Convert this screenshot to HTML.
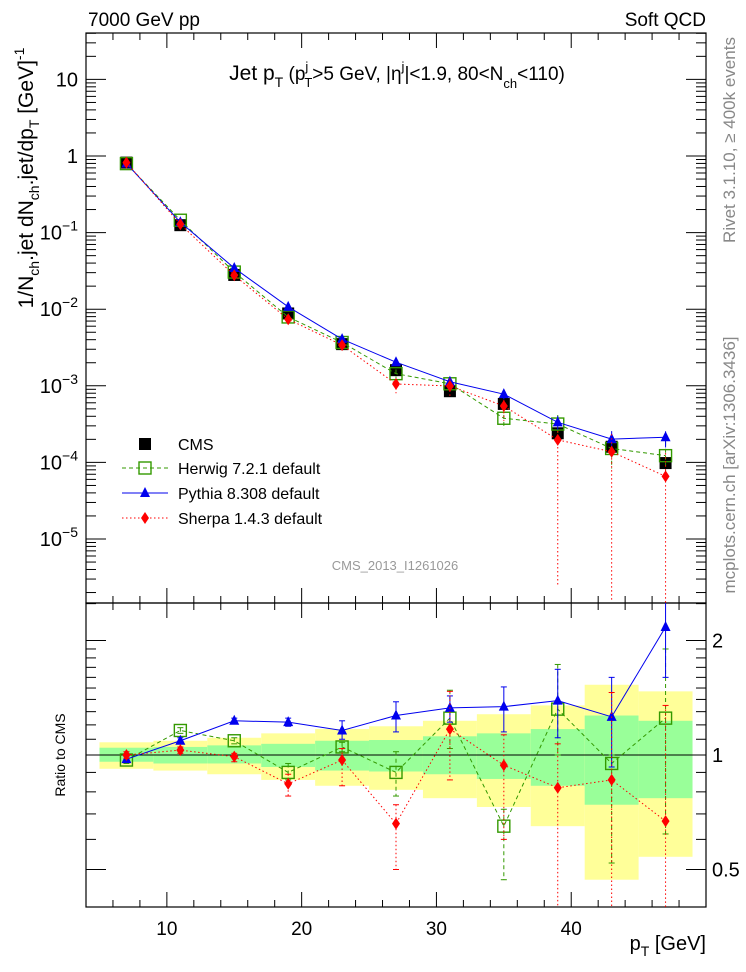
<!DOCTYPE html>
<html><head><meta charset="utf-8"><style>
html,body{margin:0;padding:0;background:#fff;overflow:hidden;width:746px;height:972px}
svg{display:block;font-family:"Liberation Sans",sans-serif}
</style></head><body>
<svg id="c" width="746" height="972" viewBox="0 0 746 972" xmlns="http://www.w3.org/2000/svg"></svg>
<script>
const pt=[7,11,15,19,23,27,31,35,39,43,47];
const cms=[0.82,0.125,0.028,0.0088,0.0035,0.0016,0.00085,0.00058,0.00024,0.00016,0.000098];
const herwigR=[0.97,1.16,1.09,0.90,1.05,0.90,1.25,0.65,1.32,0.95,1.25];
const herwigUp=[1.0,1.18,1.11,0.95,1.08,1.02,1.48,0.72,1.73,1.0,1.9];
const herwigDn=[0.95,1.14,1.07,0.86,1.02,0.78,1.04,0.47,1.0,0.52,0.62];
const pythiaR=[0.975,1.09,1.23,1.22,1.16,1.27,1.33,1.34,1.39,1.26,2.17];
const pythiaUp=[0.99,1.11,1.25,1.25,1.23,1.38,1.43,1.51,1.68,1.6,2.6];
const pythiaDn=[0.96,1.07,1.21,1.19,1.10,1.15,1.22,1.15,1.11,0.93,1.6];
const sherpaR=[1.0,1.03,0.99,0.84,0.97,0.66,1.17,0.94,0.82,0.86,0.67];
const sherpaUp=[1.02,1.05,1.01,0.89,1.04,0.74,1.47,1.13,1.07,1.46,1.35];
const sherpaDn=[0.98,1.01,0.96,0.78,0.83,0.5,0.86,0.6,0.01,0.01,0.01];
const bandLo=[5,9,13,17,21,25,29,33,37,41,45];
const bandHi=[9,13,17,21,25,29,33,37,41,45,49];
const green1Up=[1.045,1.05,1.06,1.07,1.09,1.095,1.12,1.14,1.17,1.27,1.23];
const green1Dn=[0.96,0.95,0.95,0.93,0.91,0.905,0.89,0.865,0.83,0.74,0.77];
const yellowUp=[1.08,1.09,1.11,1.14,1.17,1.19,1.23,1.28,1.35,1.53,1.47];
const yellowDn=[0.92,0.91,0.89,0.86,0.83,0.81,0.77,0.73,0.65,0.47,0.54];
const xTicks=[10,20,30,40];
const mainTicks=[1,0,-1,-2,-3,-4,-5];
const ratioTicks=[2,1,0.5];

const S=document.getElementById('c');const NS='http://www.w3.org/2000/svg';
function el(t,a,p){const e=document.createElementNS(NS,t);for(const k in a)e.setAttribute(k,a[k]);(p||S).appendChild(e);return e;}
const L=86,R=706,XMIN=4,XMAX=50,MT=33,MB=603,RT=603,RB=907;
const X=v=>L+(v-XMIN)*(R-L)/(XMAX-XMIN);
const Y=v=>156-76.6*Math.log10(v);
const YR=r=>755-114.5*Math.log2(r);
const clipM=el('clipPath',{id:'cm'});el('rect',{x:L,y:MT,width:R-L,height:MB-MT},clipM);
const clipR=el('clipPath',{id:'cr'});el('rect',{x:L,y:RT,width:R-L,height:RB-RT},clipR);

const gB=el('g',{'clip-path':'url(#cr)'});

for(let i=0;i<bandLo.length;i++){
 const r1=el('rect',{x:X(bandLo[i]),y:YR(yellowUp[i]),width:X(bandHi[i])-X(bandLo[i]),height:YR(yellowDn[i])-YR(yellowUp[i]),fill:'#ffff99'},gB);
 
 const r2=el('rect',{x:X(bandLo[i]),y:YR(green1Up[i]),width:X(bandHi[i])-X(bandLo[i]),height:YR(green1Dn[i])-YR(green1Up[i]),fill:'#99ff99'},gB);
 
}
el('line',{x1:L,x2:R,y1:YR(1),y2:YR(1),stroke:'#000','stroke-width':1});

el('rect',{x:L,y:MT,width:R-L,height:MB-MT,fill:'none',stroke:'#000','stroke-width':1.2});
el('rect',{x:L,y:RT,width:R-L,height:RB-RT,fill:'none',stroke:'#000','stroke-width':1.2});
for(const [top,bot] of [[MT,MB],[RT,RB]]){
 for(let v=5;v<=49;v++){const big=v%10==0;const len=big?15:(v%2==0?7:0);if(!len)continue;
  el('line',{x1:X(v),x2:X(v),y1:bot,y2:bot-len,stroke:'#000'});
  el('line',{x1:X(v),x2:X(v),y1:top,y2:top+len,stroke:'#000'});}
}
xTicks.forEach(v=>{const t=el('text',{x:X(v),y:935,'font-size':19,'text-anchor':'middle'});t.textContent=v;
 });
for(let d=-6;d<=1;d++){for(let m=1;m<10;m++){const v=m*Math.pow(10,d);const y=Y(v);if(y<MT||y>MB)continue;
 const len=m==1?20:10;el('line',{x1:L,x2:L+len,y1:y,y2:y,stroke:'#000'});el('line',{x1:R,x2:R-len,y1:y,y2:y,stroke:'#000'});}}
mainTicks.forEach(e=>{const y=Y(Math.pow(10,e));const t=el('text',{x:78,y:y+7,'font-size':20,'text-anchor':'end'});
 if(e==1)t.textContent='10';else if(e==0)t.textContent='1';else{t.textContent='10';const s=el('tspan',{dy:-9,'font-size':14},t);s.textContent='−'+(-e);}
 });
[0.5,0.6,0.7,0.8,0.9,1,1.1,1.2,1.3,1.4,1.5,1.6,1.7,1.8,1.9,2,2.5].forEach(v=>{const y=YR(v);if(y<RT||y>RB)return;
 const len=(v==0.5||v==1||v==2)?20:10;el('line',{x1:L,x2:L+len,y1:y,y2:y,stroke:'#000'});el('line',{x1:R,x2:R-len,y1:y,y2:y,stroke:'#000'});});
ratioTicks.forEach(v=>{const y=YR(v)+7;
 const t2=el('text',{x:712,y:y,'font-size':20}); t2.textContent=v;});

const series=[
 {name:'herwig',r:herwigR,up:herwigUp,dn:herwigDn,col:'#339900',dash:'4,3',mk:'sq'},
 {name:'pythia',r:pythiaR,up:pythiaUp,dn:pythiaDn,col:'#0000ee',dash:'',mk:'tri'},
 {name:'sherpa',r:sherpaR,up:sherpaUp,dn:sherpaDn,col:'#ff0000',dash:'1.5,2.5',mk:'dia'}];
function marker(g,mk,x,y,col){
 let m;
 if(mk=='sq')m=el('rect',{x:x-6,y:y-6,width:12,height:12,fill:'none',stroke:col,'stroke-width':1.4},g);
 else if(mk=='tri')m=el('polygon',{points:`${x},${y-6} ${x-5},${y+4} ${x+5},${y+4}`,fill:col},g);
 else if(mk=='dia')m=el('polygon',{points:`${x},${y-6} ${x-4},${y} ${x},${y+6} ${x+4},${y}`,fill:col},g);
 else m=el('rect',{x:x-6,y:y-6,width:12,height:12,fill:col},g);
 
}
const gC=el('g',{'clip-path':'url(#cm)'});
pt.forEach((p,i)=>marker(gC,'cms',X(p),Y(cms[i]),'#000'));
series.forEach(s=>{
 const gm=el('g',{'clip-path':'url(#cm)'});
 const gr=el('g',{'clip-path':'url(#cr)'});
 const pm=pt.map((p,i)=>X(p)+','+Y(cms[i]*s.r[i])).join(' ');
 el('polyline',{points:pm,fill:'none',stroke:s.col,'stroke-width':1,'stroke-dasharray':s.dash},gm);
 const pr=pt.map((p,i)=>X(p)+','+YR(s.r[i])).join(' ');
 el('polyline',{points:pr,fill:'none',stroke:s.col,'stroke-width':1,'stroke-dasharray':s.dash},gr);
 pt.forEach((p,i)=>{const x=X(p);
  el('line',{x1:x,x2:x,y1:Y(cms[i]*s.up[i]),y2:Y(cms[i]*s.dn[i]),stroke:s.col,'stroke-dasharray':s.dash},gm);
  el('line',{x1:x,x2:x,y1:YR(s.up[i]),y2:YR(s.dn[i]),stroke:s.col,'stroke-dasharray':s.dash},gr);
  [s.up[i],s.dn[i]].forEach(v=>el('line',{x1:x-3,x2:x+3,y1:YR(v),y2:YR(v),stroke:s.col},gr));
  marker(gm,s.mk,x,Y(cms[i]*s.r[i]),s.col);
  marker(gr,s.mk,x,YR(s.r[i]),s.col);
 });
});

const lg=el('g',{});
const leg=[['CMS','#000','','cms',444],['Herwig 7.2.1 default','#339900','4,3','sq',468],['Pythia 8.308 default','#0000ee','','tri',493],['Sherpa 1.4.3 default','#ff0000','1.5,2.5','dia',518]];
leg.forEach(([n,c,d,mk,y],i)=>{
 if(i>0)el('line',{x1:122,x2:168,y1:y,y2:y,stroke:c,'stroke-dasharray':d},lg);
 marker(lg,mk,145,y,c);
 const t=el('text',{x:178,y:y+6,'font-size':16},lg);t.textContent=n;
 });

function txt(x,y,s,size,attrs,name){const t=el('text',Object.assign({x:x,y:y,'font-size':size},attrs||{}));t.innerHTML=s;return t;}
txt(88,26,'7000 GeV pp',19,{},'energy-label');
txt(706,26,'Soft QCD',19,{'text-anchor':'end'},'process-label');
txt(397,80,'Jet p<tspan dy="7" font-size="14">T</tspan><tspan dy="-7" font-size="19"> (p</tspan><tspan dy="-9" font-size="13">j</tspan><tspan dy="16" dx="-4" font-size="13">T</tspan><tspan dy="-7" font-size="19">&gt;5 GeV, |η</tspan><tspan dy="-9" font-size="13">j</tspan><tspan dy="9" font-size="19">|&lt;1.9, 80&lt;N</tspan><tspan dy="8" font-size="13">ch</tspan><tspan dy="-8" font-size="19">&lt;110)</tspan>',21,{'text-anchor':'middle'},'plot-title');
txt(395,570,'CMS_2013_I1261026',13,{'text-anchor':'middle',fill:'#999'},'analysis-id');
txt(0,0,'Rivet 3.1.10, ≥ 400k events',17,{fill:'#888','text-anchor':'middle',transform:'translate(735,140) rotate(-90)'},'rivet-label');
txt(0,0,'mcplots.cern.ch [arXiv:1306.3436]',17,{fill:'#888','text-anchor':'middle',transform:'translate(735,465) rotate(-90)'},'mcplots-label');
txt(0,0,'1/N<tspan dy="6" font-size="14">ch</tspan><tspan dy="-6">.jet dN</tspan><tspan dy="6" font-size="14">ch</tspan><tspan dy="-6">.jet/dp</tspan><tspan dy="6" font-size="14">T</tspan><tspan dy="-6"> [GeV]</tspan><tspan dy="-9" font-size="14">-1</tspan>',21,{'text-anchor':'middle',transform:'translate(33,178) rotate(-90)'},'y-axis-title');
txt(0,0,'Ratio to CMS',14,{'text-anchor':'middle',transform:'translate(65,755) rotate(-90)'},'ratio-axis-title');
txt(706,950,'p<tspan dy="6" font-size="14">T</tspan><tspan dy="-6"> [GeV]</tspan>',20,{'text-anchor':'end'},'x-axis-title');
</script>
</body></html>
